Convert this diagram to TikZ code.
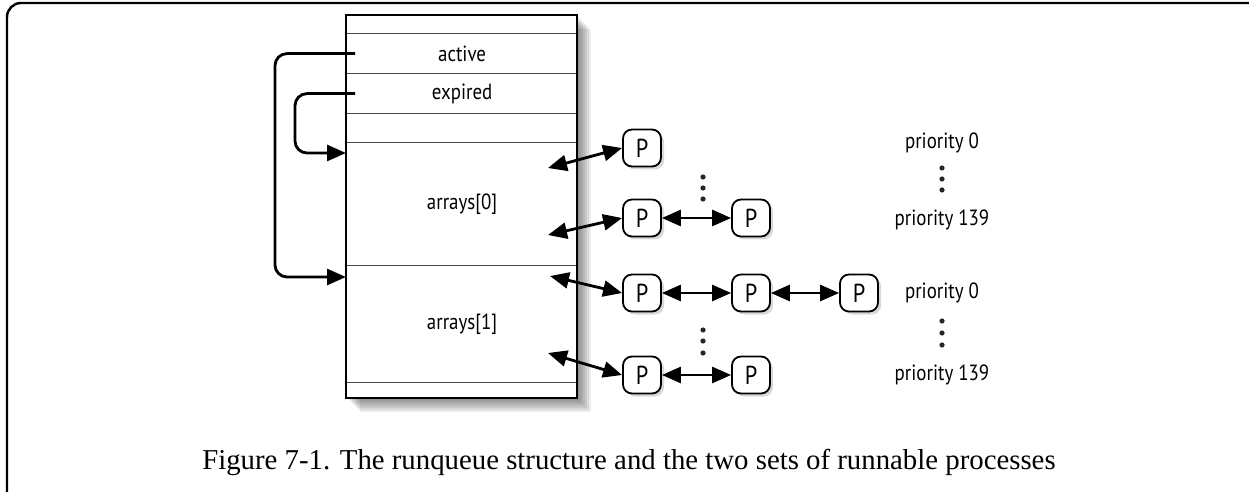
\documentclass[tikz,border=0pt]{standalone}
\usepackage{fontspec}
\setmainfont{Liberation Serif}
\newfontfamily\diagfont[FakeStretch=0.86]{PT Sans}
\usetikzlibrary{arrows.meta, shadows, positioning}

\begin{document}
\begin{tikzpicture}[x=0.5pt, y=-0.5pt,
    cell/.style={draw=black!70, line width=0.6pt, anchor=north west, inner sep=0pt,
       minimum width=115.5pt, font=\diagfont\fontsize{11}{12}\selectfont},
    proc/.style={draw, line width=0.9pt, rounded corners=4.5pt, fill=white,
       minimum width=19pt, minimum height=18.5pt, inner sep=0pt,
       font=\diagfont\fontsize{13}{14}\selectfont,
       drop shadow={shadow xshift=1.5pt, shadow yshift=-1.5pt, opacity=0.3}},
    prio/.style={font=\diagfont\fontsize{11}{12}\selectfont, inner sep=1pt},
    link/.style={line width=1.4pt, {Triangle[length=9.5pt,width=8pt]}-{Triangle[length=9.5pt,width=8pt]}},
    pointer/.style={line width=1.4pt, -{Triangle[length=9.5pt,width=8pt]}},
    vdot/.style={fill=black!85}]
  \useasboundingbox (0,0) rectangle (1249,492);

  % Page frame
  \draw[line width=1.2pt, rounded corners=7pt] (7,494) -- (7,3) -- (1252,3);

  % Runqueue column with a soft shadow
  \foreach \s in {2,4,...,14}
     \fill[black, opacity=0.08] (346+\s,15+\s) rectangle (577+\s,398+\s);
  \fill[white] (346,15) rectangle (577,398);
  \node[cell, minimum height=9pt]    (top)     at (346,15)  {};
  \node[cell, minimum height=20pt]   (active)  at (346,33)  {active};
  \node[cell, minimum height=20pt]   (expired) at (346,73)  {expired};
  \node[cell, minimum height=14.5pt] (gap)     at (346,113) {};
  \node[cell, minimum height=61.5pt] (arr0)    at (346,142) {arrays[0]};
  \node[cell, minimum height=58.5pt] (arr1)    at (346,265) {arrays[1]};
  \node[cell, minimum height=8pt]    (bottom)  at (346,382) {};
  \draw[line width=0.8pt] (346,15) rectangle (577,398);

  % active / expired pointers
  \draw[pointer, rounded corners=6pt] ([xshift=4.5pt]active.west) -- ++(-40pt,0)
     |- ([yshift=-6pt]arr1.north west);
  \draw[pointer, rounded corners=6pt] ([xshift=4.5pt]expired.west) -- ++(-30pt,0)
     |- ([yshift=-5.5pt]arr0.north west);

  % Process lists
  \node[proc] (p00) at (642,148) {P};
  \node[proc] (p10) at (642,218) {P};
  \node[proc] (p11) at (751,218) {P};
  \node[proc] (p20) at (642,293) {P};
  \node[proc] (p21) at (751,293) {P};
  \node[proc] (p22) at (859,293) {P};
  \node[proc] (p30) at (642,375) {P};
  \node[proc] (p31) at (751,375) {P};

  % List heads inside the arrays
  \coordinate (h00) at (548,168);
  \coordinate (h10) at (548,235);
  \coordinate (h20) at (550,276);
  \coordinate (h30) at (548,353);
  \draw[link] (h00) -- (p00.west);
  \draw[link] (h10) -- (p10.west);
  \draw[link] (h20) -- (p20.west);
  \draw[link] (h30) -- (p30.west);
  \draw[link] (p10) -- (p11);
  \draw[link] (p20) -- (p21);
  \draw[link] (p21) -- (p22);
  \draw[link] (p30) -- (p31);

  % Dots between the lists
  \foreach \y in {177,188,199,330,341,353}
     \fill[vdot] (703,\y) circle[radius=1.3pt];

  % Priority labels
  \node[prio] (q00) at (942,143) {priority 0};
  \node[prio] (q01) at (942,220) {priority 139};
  \node[prio] (q10) at (942,293) {priority 0};
  \node[prio] (q11) at (942,375) {priority 139};
  \foreach \y in {168,179,190,321,333,345}
     \fill[vdot] (942,\y) circle[radius=1.3pt];

  % Caption
  \node[anchor=base, font=\fontsize{14.4}{16}\selectfont] (caption) at (629,469)
     {Figure 7-1. The runqueue structure and the two sets of runnable processes};
\end{tikzpicture}
\end{document}
